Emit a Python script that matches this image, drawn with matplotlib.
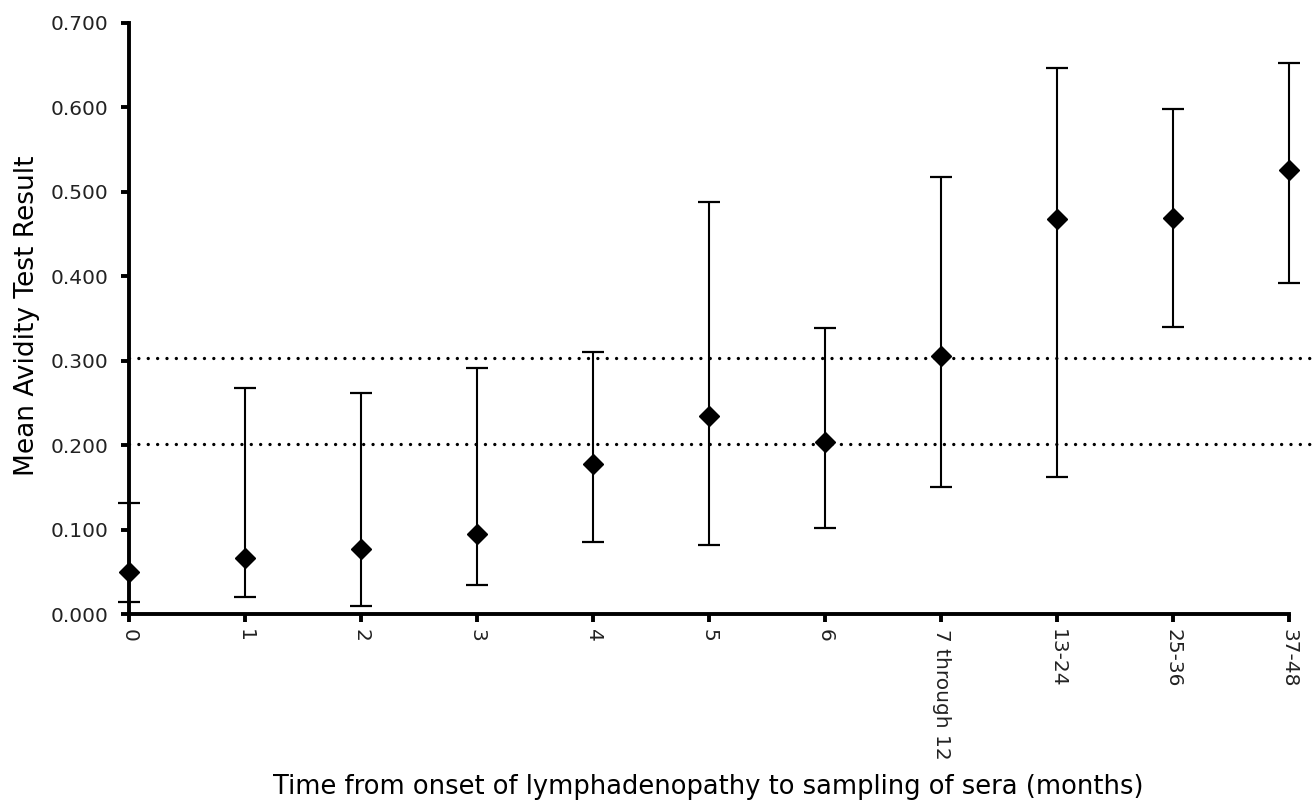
import numpy as np
import matplotlib
matplotlib.use("Agg")
import matplotlib.pyplot as plt

# time groups (months) and avidity results
groups = ["0", "1", "2", "3", "4", "5", "6", "7 through 12", "13-24", "25-36", "37-48"]
mean_avidity = [0.050, 0.066, 0.077, 0.095, 0.178, 0.235, 0.204, 0.306, 0.468, 0.469, 0.526]
upper = [0.131, 0.268, 0.262, 0.291, 0.310, 0.488, 0.339, 0.518, 0.647, 0.598, 0.653]
lower = [0.014, 0.020, 0.009, 0.034, 0.085, 0.082, 0.102, 0.150, 0.162, 0.340, 0.392]
cutoffs = [0.303, 0.201]

x = np.arange(len(groups))
mean_avidity = np.array(mean_avidity)
yerr = [mean_avidity - np.array(lower), np.array(upper) - mean_avidity]

plt.rcParams['font.family'] = ['DejaVu Sans']
fig = plt.figure(figsize=(13.16, 8.02), dpi=100)
ax = fig.add_axes([0.098, 0.2344, 0.9005, 0.737])

for c in cutoffs:
    ax.axhline(c, color='black', lw=2.4, linestyle=(0, (0.01, 2.8)),
               dash_capstyle='round', zorder=1)

ax.errorbar(x, mean_avidity, yerr=yerr, fmt='D', color='black', ms=10,
            ecolor='black', elinewidth=1.5, capsize=8, capthick=1.6,
            clip_on=False, zorder=3)

ax.set_xlim(0, 10.215)
ax.set_ylim(0, 0.7)
ax.spines['top'].set_visible(False)
ax.spines['right'].set_visible(False)
ax.spines['left'].set_linewidth(2.8)
ax.spines['bottom'].set_linewidth(2.8)
ax.spines['bottom'].set_bounds(0, 10)

ax.set_yticks(np.arange(0, 0.71, 0.1))
ax.set_yticklabels(["%.3f" % v for v in np.arange(0, 0.71, 0.1)])
ax.set_xticks(x)
ax.set_xticklabels(groups, rotation=-90, ha='center', va='top')
ax.tick_params(axis='both', width=2.8, length=6, colors='black',
               labelcolor='#222222')
ax.tick_params(axis='y', labelsize=14.5, pad=9)
ax.tick_params(axis='x', labelsize=14.5, pad=5)

ax.set_ylabel("Mean Avidity Test Result", fontsize=19)
ax.yaxis.set_label_coords(-0.075, 0.505)
ax.set_xlabel("Time from onset of lymphadenopathy to sampling of sera (months)",
              fontsize=18.5)
ax.xaxis.set_label_coords(0.489, -0.27)

plt.savefig("out.png", dpi=100)
plt.close()
